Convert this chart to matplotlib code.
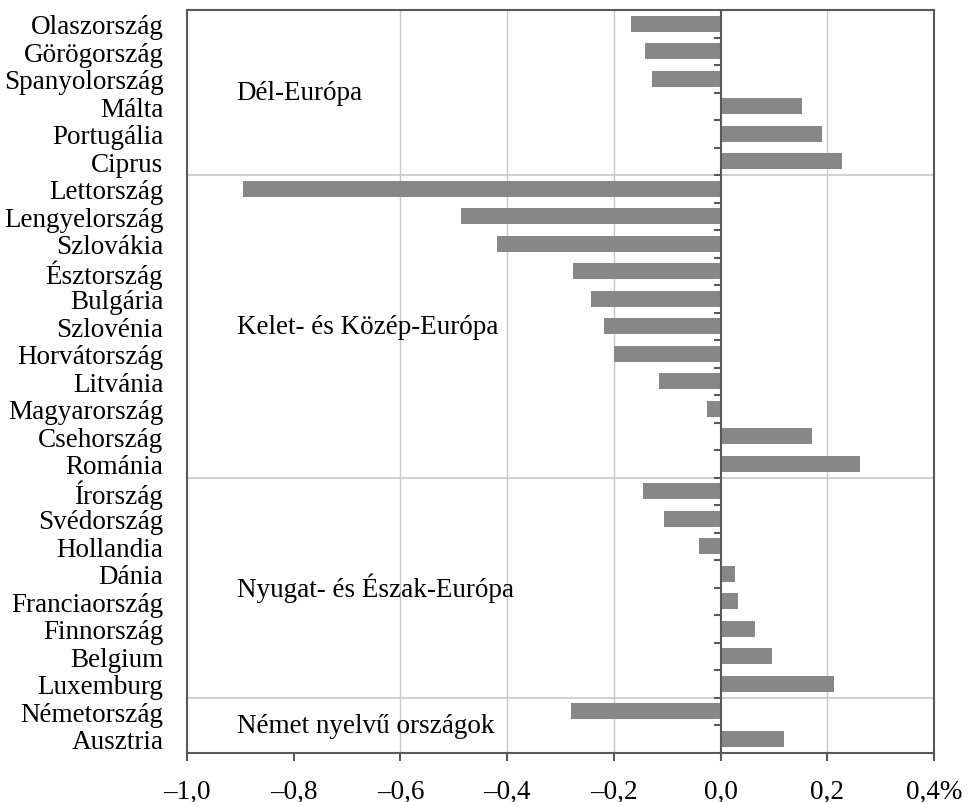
import numpy as np
import matplotlib.pyplot as plt

countries = ["Olaszország", "Görögország", "Spanyolország", "Málta", "Portugália", "Ciprus",
             "Lettország", "Lengyelország", "Szlovákia", "Észtország", "Bulgária", "Szlovénia",
             "Horvátország", "Litvánia", "Magyarország", "Csehország", "Románia",
             "Írország", "Svédország", "Hollandia", "Dánia", "Franciaország", "Finnország",
             "Belgium", "Luxemburg",
             "Németország", "Ausztria"]
values = [-0.167, -0.142, -0.129, 0.152, 0.190, 0.228,
          -0.895, -0.486, -0.419, -0.276, -0.242, -0.218,
          -0.199, -0.116, -0.025, 0.171, 0.261,
          -0.146, -0.106, -0.040, 0.027, 0.033, 0.065,
          0.096, 0.213,
          -0.280, 0.118]
groups = ["Dél-Európa", "Kelet- és Közép-Európa", "Nyugat- és Észak-Európa", "Német nyelvű országok"]
group_sizes = [6, 11, 8, 2]

x_ticks = [-1.0, -0.8, -0.6, -0.4, -0.2, 0.0, 0.2, 0.4]
x_labels = ["–1,0", "–0,8", "–0,6", "–0,4", "–0,2", "0,0", "0,2", "0,4%"]
grid_at = [-0.6, -0.4, -0.2, 0.2]

plt.rcParams['font.family'] = ['Liberation Serif', 'DejaVu Serif']
plt.rcParams['font.size'] = 19.5

dark = "#595959"
light = "#c8c8c8"

fig = plt.figure(figsize=(9.73, 8.03), dpi=100)
ax = fig.add_axes([0.1922, 0.0616, 0.9599 - 0.1922, 0.9863 - 0.0616])

y = np.arange(len(countries))
for gx in grid_at:
    ax.axvline(gx, color=light, lw=1, zorder=0)

ax.barh(y, values, height=0.57, color="#878787", zorder=2)

# group dividers and labels
start = 0
for name, size in zip(groups, group_sizes):
    end = start + size
    if end < len(countries):
        ax.axhline(end - 0.5, color=light, lw=1.2, zorder=1)
    ax.text(-0.907, (start + end - 1) / 2, name, ha="left", va="center", fontsize=19.5)
    start = end

# zero axis with category tick marks
ax.axvline(0, color=dark, lw=1.5, zorder=3)
ax.hlines(y[:-1] + 0.5, -0.013, 0, color=dark, lw=1.5, zorder=3)

ax.set_xlim(-1.0, 0.4)
ax.set_ylim(len(countries) - 0.5, -0.5)
ax.set_yticks(y)
ax.set_yticklabels(countries)
ax.tick_params(axis="y", length=0, pad=17)
ax.set_xticks(x_ticks)
ax.set_xticklabels(x_labels)
ax.tick_params(axis="x", length=6, width=1.5, color=dark, pad=13)

for s in ax.spines.values():
    s.set_color(dark)
    s.set_linewidth(1.5)

fig.savefig("out.png", dpi=100)
